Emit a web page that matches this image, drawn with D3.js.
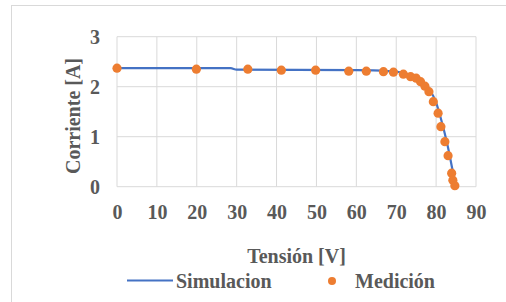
<!DOCTYPE html>
<html>
<head>
<meta charset="utf-8">
<script src="https://cdn.jsdelivr.net/npm/d3@7"></script>
<style>
  body { margin: 0; background: #fff; }
</style>
</head>
<body>
<div id="chart"></div>
<script>
// Simulacion (line)
const simV = [0, 28.5, 30, 60, 68, 72, 75, 77, 78.5, 80, 81, 82, 83, 84, 85]
const simI = [2.37, 2.37, 2.34, 2.33, 2.31, 2.27, 2.19, 2.08, 1.93, 1.68, 1.42, 1.12, 0.78, 0.38, 0]

// Medición (points)
const medV = [0, 19.9, 32.8, 41.2, 49.8, 58.1, 62.5, 66.8, 69.3, 71.8, 73.6, 75.0, 76.1, 77.2, 78.2, 79.3, 80.5, 81.2, 82.2, 83.0, 83.9, 84.2, 84.7]
const medI = [2.37, 2.35, 2.35, 2.33, 2.33, 2.31, 2.31, 2.3, 2.29, 2.25, 2.2, 2.17, 2.1, 2.01, 1.9, 1.7, 1.47, 1.2, 0.9, 0.62, 0.27, 0.13, 0.02]

const xTicks = [0, 10, 20, 30, 40, 50, 60, 70, 80, 90]
const yTicks = [0, 1, 2, 3]

const W = 506, H = 302
const margin = { top: 36.7, left: 117, right: 30, bottom: 115.3 }
const width = 476 - margin.left
const height = 186.7 - margin.top
const serif = "'Liberation Serif', 'DejaVu Serif', serif"
const textColor = '#595959'

const svg = d3.select('#chart').append('svg')
  .attr('width', W).attr('height', H)
  .style('font-family', serif)

// outer chart frame
svg.append('rect')
  .attr('x', 11.5).attr('y', 5.5)
  .attr('width', 600).attr('height', 400)
  .attr('fill', 'none').attr('stroke', '#d9d9d9').attr('stroke-width', 1)

const g = svg.append('g')
  .attr('transform', 'translate(' + margin.left + ',' + margin.top + ')')

const x = d3.scaleLinear().domain([0, 90]).range([0, width])
const y = d3.scaleLinear().domain([0, 3]).range([height, 0])

// grid lines
g.selectAll('.vgrid').data(xTicks).enter().append('line')
  .attr('x1', d => x(d)).attr('x2', d => x(d))
  .attr('y1', 0).attr('y2', height)
  .attr('stroke', '#d9d9d9').attr('stroke-width', 1)

g.selectAll('.hgrid').data(yTicks).enter().append('line')
  .attr('x1', 0).attr('x2', width)
  .attr('y1', d => y(d)).attr('y2', d => y(d))
  .attr('stroke', '#d9d9d9').attr('stroke-width', 1)

function styleTicks(s) {
  s.select('.domain').remove()
  s.attr('font-family', null).attr('font-size', null)
  s.selectAll('text')
    .style('font-family', serif).style('font-size', '20px')
    .style('font-weight', 'bold').attr('fill', textColor)
}

// axes (labels only)
const xAxis = d3.axisBottom(x).tickValues(xTicks).tickFormat(d3.format('d')).tickSize(0).tickPadding(18)
g.append('g').attr('class', 'axis x-axis')
  .attr('transform', 'translate(0,' + height + ')')
  .call(xAxis)
  .call(styleTicks)

const yAxis = d3.axisLeft(y).tickValues(yTicks).tickFormat(d3.format('d')).tickSize(0).tickPadding(17)
g.append('g').attr('class', 'axis y-axis')
  .call(yAxis)
  .call(styleTicks)

// simulation line
const simData = simV.map((v, i) => ({ v: v, i: simI[i] }))
const line = d3.line().x(d => x(d.v)).y(d => y(d.i)).curve(d3.curveMonotoneX)
g.append('path').datum(simData)
  .attr('d', line)
  .attr('fill', 'none').attr('stroke', '#4472c4').attr('stroke-width', 2.2)

// measurement points
const medData = medV.map((v, i) => ({ v: v, i: medI[i] }))
g.selectAll('.dot').data(medData).enter().append('circle')
  .attr('cx', d => x(d.v)).attr('cy', d => y(d.i))
  .attr('r', 4.6).attr('fill', '#ed7d31')

function label(sel) {
  sel.style('font-family', serif).style('font-size', '20px')
    .style('font-weight', 'bold').attr('fill', textColor)
}

// axis titles
svg.append('text').text('Tensión [V]')
  .attr('x', margin.left + width / 2).attr('y', 263)
  .attr('text-anchor', 'middle').call(label)

svg.append('text').text('Corriente [A]')
  .attr('transform', 'translate(80,116) rotate(-90)')
  .attr('text-anchor', 'middle').call(label)

// legend
const legend = svg.append('g').attr('transform', 'translate(127,280.5)')
legend.append('line')
  .attr('x1', 0).attr('x2', 46).attr('y1', 0).attr('y2', 0)
  .attr('stroke', '#4472c4').attr('stroke-width', 2.2)
legend.append('text').text('Simulacion')
  .attr('x', 49).attr('y', 7.5).call(label)
legend.append('circle')
  .attr('cx', 205).attr('cy', 0.5).attr('r', 4).attr('fill', '#ed7d31')
legend.append('text').text('Medición')
  .attr('x', 228).attr('y', 7.5).call(label)
</script>
</body>
</html>
